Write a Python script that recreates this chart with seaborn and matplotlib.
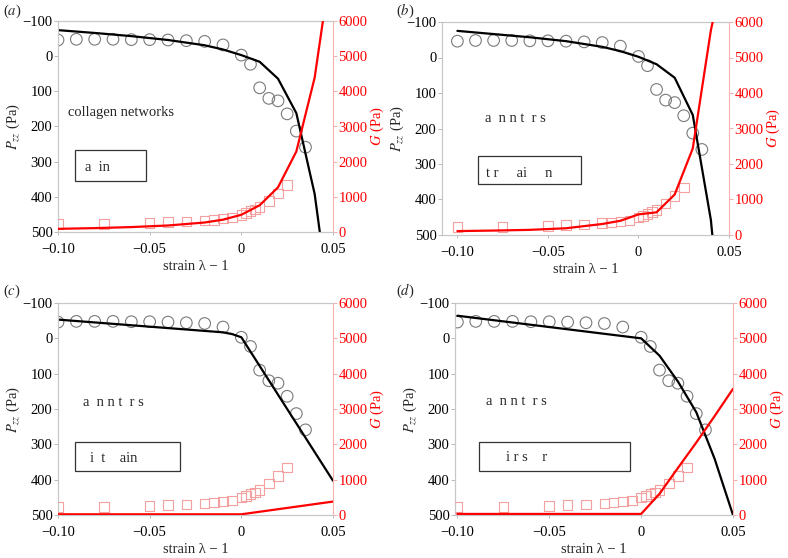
import matplotlib
matplotlib.use("Agg")
import matplotlib.pyplot as plt
from matplotlib.patches import Rectangle
import seaborn as sns

sns.set_theme(style="white")
plt.rcParams['font.family'] = ['Liberation Serif', 'DejaVu Serif']
plt.rcParams['mathtext.fontset'] = 'stix'

# experimental points (same in every panel)
strain_p = [-0.1, -0.09, -0.08, -0.07, -0.06, -0.05, -0.04, -0.03, -0.02, -0.01,
            0, 0.005, 0.01, 0.015, 0.02, 0.025, 0.03, 0.035]
p_data = [-46, -48, -48, -48, -47, -47, -46, -44, -42, -32,
          -3, 23, 90, 120, 127, 164, 213, 259]
strain_g = [-0.1, -0.075, -0.05, -0.04, -0.03, -0.02, -0.015, -0.01, -0.005,
            0, 0.0025, 0.005, 0.0075, 0.01, 0.015, 0.02, 0.025]
g_data = [220, 220, 250, 280, 300, 330, 350, 380, 410,
          490, 540, 590, 640, 710, 890, 1100, 1340]

# model curves
pa_x = [-0.1, -0.08, -0.06, -0.04, -0.02, -0.01, 0, 0.01, 0.02, 0.03, 0.04, 0.0428]
pa_y = [-74, -66, -57, -46, -31, -19, -3, 16, 64, 162, 392, 500]
ga_x = [-0.1, -0.08, -0.06, -0.04, -0.02, -0.01, 0, 0.01, 0.02, 0.03, 0.04, 0.0445]
ga_y = [90, 110, 140, 185, 270, 350, 490, 760, 1270, 2290, 4390, 6000]

pb_x = [-0.1, -0.08, -0.06, -0.04, -0.02, -0.01, 0, 0.01, 0.02, 0.03, 0.04, 0.0408]
pb_y = [-75, -66, -57, -46, -30, -18, -2, 19, 57, 162, 458, 500]
gb_x = [-0.1, -0.08, -0.06, -0.04, -0.02, -0.01, 0, 0.01, 0.02, 0.03, 0.04, 0.041]
gb_y = [110, 125, 145, 190, 310, 400, 580, 640, 1140, 2440, 5770, 6000]

pc_x = [-0.1, -0.01, -0.005, 0, 0.05]
pc_y = [-53, -17, -12, -3, 403]
gc_x = [-0.1, 0, 0.05]
gc_y = [20, 20, 380]

pd_x = [-0.1, 0, 0.01, 0.02, 0.03, 0.04, 0.05]
pd_y = [-64, 0, 49, 122, 209, 341, 500]
gd_x = [-0.1, 0, 0.01, 0.02, 0.03, 0.04, 0.05]
gd_y = [30, 30, 600, 1330, 2050, 2800, 3570]

panel_labels = ['a', 'b', 'c', 'd']
top_texts = ['collagen networks', 'a  n n t  r s', 'a  n n t  r s', 'a  n n t  r s']
box_texts = ['a  in', 't r     ai     n', 'i  t    ain', 'i r s    r']
x_ticks = [-0.1, -0.05, 0, 0.05]
x_ticklabels = ['\u22120.10', '\u22120.05', '0', '0.05']
p_ticks = [-100, 0, 100, 200, 300, 400, 500]
g_ticks = [0, 1000, 2000, 3000, 4000, 5000, 6000]

# layout (figure pixels): left, right, top, bottom, xmin, xmax
layout = [
    (58, 333, 21, 232, -0.1, 0.05),
    (442, 729, 22, 235, -0.1085, 0.048),
    (58, 333, 303, 515, -0.1, 0.05),
    (455, 733, 303, 515, -0.1013, 0.05),
]
# text positions in data coords: (text x, text y, box x0, box x1, box y0, box y1, box text x, box text y)
annots = [
    (-0.0945, 160, -0.0909, -0.052, 268, 354, -0.0855, 317),
    (-0.0845, 172, -0.0885, -0.0315, 277, 357, -0.084, 328),
    (-0.0863, 181, -0.0908, -0.0334, 292, 375, -0.0823, 339),
    (-0.0845, 178, -0.0882, -0.0058, 292, 375, -0.0736, 337),
]
models = [(pa_x, pa_y, ga_x, ga_y), (pb_x, pb_y, gb_x, gb_y),
          (pc_x, pc_y, gc_x, gc_y), (pd_x, pd_y, gd_x, gd_y)]

W, H = 788, 558
fig = plt.figure(figsize=(W / 100, H / 100), dpi=100)
fs = 10.5

for i in range(4):
    l, r, t, b, xmin, xmax = layout[i]
    ax = fig.add_axes([l / W, 1 - b / H, (r - l) / W, (b - t) / H])
    ax2 = ax.twinx()
    px, py, gx, gy = models[i]

    sns.scatterplot(x=strain_p, y=p_data, ax=ax, marker='o', s=70,
                    facecolor='none', edgecolor='#7a7a7a', linewidth=0.8, zorder=3)
    sns.lineplot(x=px, y=py, ax=ax, color='black', linewidth=1.6, sort=False, zorder=4)
    sns.scatterplot(x=strain_g, y=g_data, ax=ax2, marker='s', s=48,
                    facecolor='none', edgecolor='#f4a0a0', linewidth=0.8, zorder=3)
    sns.lineplot(x=gx, y=gy, ax=ax2, color='red', linewidth=1.6, sort=False, zorder=4)

    ax.set_xlim(xmin, xmax)
    ax.set_ylim(500, -100)
    ax2.set_ylim(0, 6000)
    ax.set_xticks(x_ticks)
    ax.set_xticklabels(x_ticklabels)
    ax.set_yticks(p_ticks)
    ax2.set_yticks(g_ticks)
    ax.tick_params(axis='y', labelsize=fs, colors='#b0b0b0', labelcolor='black',
                   direction='out', length=3, width=0.6, pad=1, left=True)
    ax.tick_params(axis='x', labelsize=fs, colors='#b0b0b0', labelcolor='black',
                   direction='out', length=2, width=0.6, pad=6, bottom=True)
    ax2.tick_params(axis='y', labelsize=fs, colors='#f4a0a0', labelcolor='red',
                    direction='out', length=3, width=0.6, pad=1, right=True)
    for sp in ['top', 'bottom', 'left']:
        ax.spines[sp].set_color('#c8c8c8')
        ax.spines[sp].set_linewidth(0.8)
        ax2.spines[sp].set_color('#c8c8c8')
        ax2.spines[sp].set_linewidth(0.8)
    ax2.spines['right'].set_color('#f8b0b0')
    ax2.spines['right'].set_linewidth(0.8)
    ax.spines['right'].set_visible(False)

    ax.set_xlabel('strain \u03bb \u2212 1', fontsize=fs, labelpad=3)
    ax.set_ylabel(r'$P_{zz}$ (Pa)', fontsize=fs, labelpad=0)
    ax2.set_ylabel(r'$G$ (Pa)', fontsize=fs, color='red', labelpad=1)

    tx, ty, bx0, bx1, by0, by1, btx, bty = annots[i]
    ax.text(tx, ty, top_texts[i], fontsize=fs, va='center', ha='left', zorder=5)
    ax.add_patch(Rectangle((bx0, by0), bx1 - bx0, by1 - by0, fill=False,
                           edgecolor='#333333', linewidth=0.9, zorder=5))
    ax.text(btx, bty, box_texts[i], fontsize=fs, va='center', ha='left', zorder=5)

    fx = 3 if i % 2 == 0 else 396
    fy = 11 if i < 2 else 291
    fig.text(fx / W, 1 - fy / H, '($' + panel_labels[i] + '$)', fontsize=fs,
             va='center', ha='left')

fig.savefig('out.png', dpi=100, facecolor='white')
